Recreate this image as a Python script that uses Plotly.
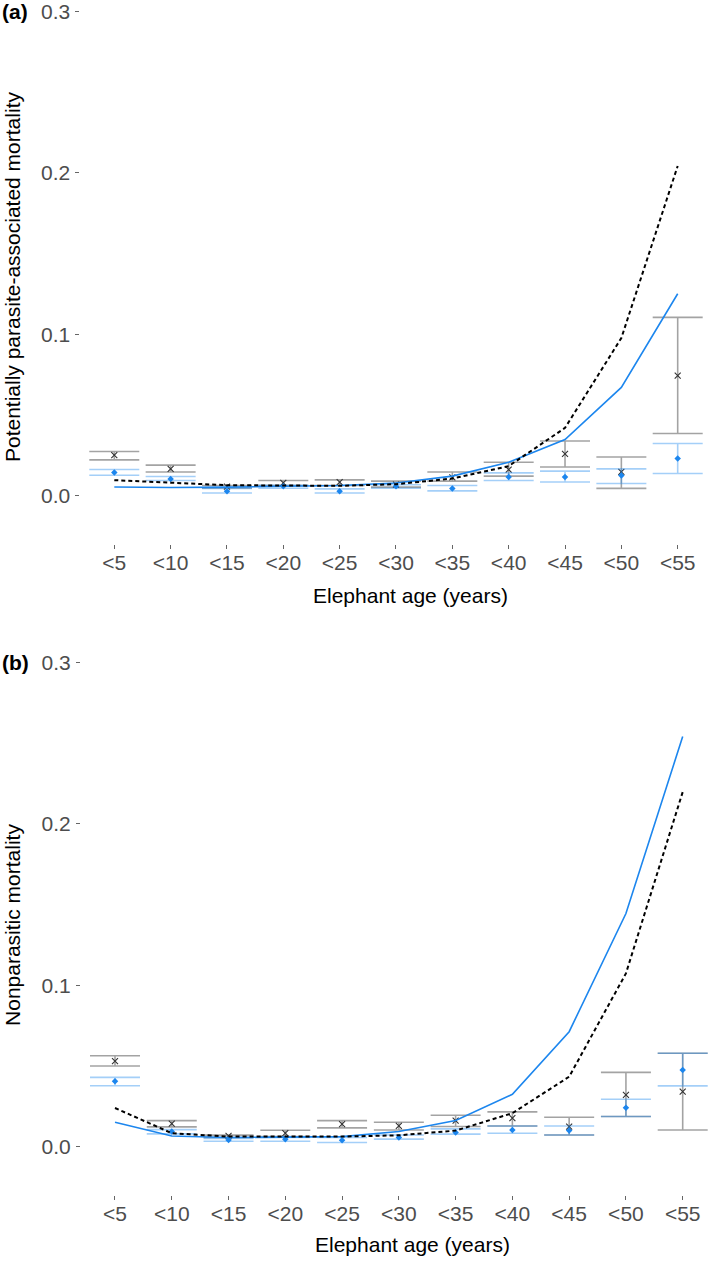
import plotly.graph_objects as go

ages = ["<5", "<10", "<15", "<20", "<25", "<30", "<35", "<40", "<45", "<50", "<55"]
ytick_vals = [0.0, 0.1, 0.2, 0.3]
ytick_text = ["0.0", "0.1", "0.2", "0.3"]

# Panel (a): potentially parasite-associated mortality
a_obs = [0.0251, 0.0166, 0.0056, 0.0079, 0.0084, 0.0069, 0.0114, 0.0162, 0.0259, 0.0147, 0.0744]
a_obs_lo = [0.0222, 0.0147, 0.0048, 0.0063, 0.0063, 0.0053, 0.0090, 0.0121, 0.0178, 0.0045, 0.0385]
a_obs_hi = [0.0274, 0.0189, 0.0063, 0.0094, 0.0098, 0.0090, 0.0147, 0.0207, 0.0339, 0.0240, 0.1105]
a_mod = [0.0144, 0.0104, 0.0028, 0.0059, 0.0028, 0.0059, 0.0045, 0.0116, 0.0116, 0.0125, 0.0230]
a_mod_lo = [0.0127, 0.0094, 0.0017, 0.0046, 0.0017, 0.0046, 0.0030, 0.0094, 0.0085, 0.0075, 0.0137]
a_mod_hi = [0.0162, 0.0119, 0.0045, 0.0065, 0.0042, 0.0068, 0.0063, 0.0141, 0.0152, 0.0166, 0.0323]
a_line = [0.0054, 0.0051, 0.0053, 0.0057, 0.0063, 0.0079, 0.0121, 0.0207, 0.0348, 0.0671, 0.1251]
a_dash = [0.0096, 0.0079, 0.0065, 0.0063, 0.0061, 0.0071, 0.0106, 0.0183, 0.0420, 0.0977, 0.2043]

# Panel (b): nonparasitic mortality
b_obs = [0.0530, 0.0142, 0.0066, 0.0083, 0.0139, 0.0128, 0.0161, 0.0176, 0.0124, 0.0320, 0.0340]
b_obs_lo = [0.0499, 0.0122, 0.0056, 0.0062, 0.0116, 0.0103, 0.0124, 0.0128, 0.0072, 0.0186, 0.0103]
b_obs_hi = [0.0563, 0.0161, 0.0071, 0.0101, 0.0161, 0.0151, 0.0194, 0.0215, 0.0182, 0.0460, 0.0578]
b_mod = [0.0405, 0.0093, 0.0041, 0.0046, 0.0040, 0.0056, 0.0087, 0.0103, 0.0099, 0.0240, 0.0475]
b_mod_lo = [0.0377, 0.0079, 0.0033, 0.0033, 0.0025, 0.0046, 0.0077, 0.0083, 0.0072, 0.0186, 0.0376]
b_mod_hi = [0.0429, 0.0105, 0.0050, 0.0056, 0.0056, 0.0072, 0.0110, 0.0128, 0.0128, 0.0293, 0.0578]
b_line = [0.0151, 0.0066, 0.0056, 0.0058, 0.0062, 0.0093, 0.0161, 0.0324, 0.0712, 0.1444, 0.2541]
b_dash = [0.0239, 0.0083, 0.0062, 0.0062, 0.0062, 0.0070, 0.0099, 0.0207, 0.0433, 0.1073, 0.2197]

BLUE = "#1C86EE"
BLUE_BAR = "rgba(28,134,238,0.40)"
GREY_BAR = "rgba(0,0,0,0.36)"
FONT = "Liberation Sans"

xidx = list(range(len(ages)))

W, H = 709, 1263
MB = 68
PH = H - MB  # plot area height in px


def py(p):
    return (PH - p) / PH


def px(p):
    return p / W


fig = go.Figure()


def add_panel(obs, lo, hi, mod, mlo, mhi, line, dash, xa, ya):
    fig.add_trace(go.Scatter(
        x=xidx, y=obs, mode="markers", xaxis=xa, yaxis=ya,
        marker=dict(symbol="x-thin", size=6, line=dict(width=1.1, color="#333333"), color="#333333"),
        error_y=dict(type="data", symmetric=False,
                     array=[h - v for h, v in zip(hi, obs)],
                     arrayminus=[v - l for v, l in zip(obs, lo)],
                     color=GREY_BAR, thickness=1.6, width=25),
        showlegend=False, hoverinfo="skip"))
    fig.add_trace(go.Scatter(
        x=xidx, y=mod, mode="markers", xaxis=xa, yaxis=ya,
        marker=dict(symbol="diamond", size=5, color=BLUE),
        error_y=dict(type="data", symmetric=False,
                     array=[h - v for h, v in zip(mhi, mod)],
                     arrayminus=[v - l for v, l in zip(mod, mlo)],
                     color=BLUE_BAR, thickness=1.6, width=25),
        showlegend=False, hoverinfo="skip"))
    fig.add_trace(go.Scatter(
        x=xidx, y=line, mode="lines", xaxis=xa, yaxis=ya,
        line=dict(color=BLUE, width=1.6), showlegend=False, hoverinfo="skip"))
    fig.add_trace(go.Scatter(
        x=xidx, y=dash, mode="lines", xaxis=xa, yaxis=ya,
        line=dict(color="black", width=2, dash="4px,3px"), showlegend=False, hoverinfo="skip"))


add_panel(a_obs, a_obs_lo, a_obs_hi, a_mod, a_mod_lo, a_mod_hi, a_line, a_dash, "x", "y")
add_panel(b_obs, b_obs_lo, b_obs_hi, b_mod, b_mod_lo, b_mod_hi, b_line, b_dash, "x2", "y2")

tickfont = dict(family=FONT, size=21, color="#4D4D4D")
common_x = dict(tickmode="array", tickvals=xidx, ticktext=ages, showgrid=False, zeroline=False,
                showline=False, ticks="outside", ticklen=4, tickwidth=1, tickcolor="#666666",
                tickfont=tickfont, ticklabelstandoff=-4, ticklabeloverflow="allow")
common_y = dict(tickmode="array", tickvals=ytick_vals, ticktext=ytick_text, showgrid=False,
                zeroline=False, showline=False, ticks="outside", ticklen=4, tickwidth=1,
                tickcolor="#666666", tickfont=tickfont, range=[-0.0300, 0.3059],
                ticklabelstandoff=1, ticklabeloverflow="allow")

# panel a: x(i) = 114.3 + 56.34 i ; panel b: x(i) = 115 + 56.77 i
a_left = 114.3 - 0.6 * 56.34
b_left = 115.0 - 0.6 * 56.77
fig.update_layout(
    width=W, height=H,
    margin=dict(l=0, r=0, t=0, b=MB),
    paper_bgcolor="white", plot_bgcolor="white",
    xaxis=dict(domain=[px(a_left), 1.0], range=[-0.6, (W - 114.3) / 56.34], anchor="y", **common_x),
    yaxis=dict(domain=[py(543), 1.0], anchor="x", **common_y),
    xaxis2=dict(domain=[px(b_left), 1.0], range=[-0.6, (W - 115.0) / 56.77], anchor="y2", **common_x),
    yaxis2=dict(domain=[0.0, py(652)], anchor="x2", **common_y),
)

ann = [
    dict(text="<b>(a)</b>", x=px(0), y=py(10), xanchor="left", yanchor="middle", size=21, angle=0, color="black"),
    dict(text="<b>(b)</b>", x=px(0), y=py(662), xanchor="left", yanchor="middle", size=21, angle=0, color="black"),
    dict(text="Potentially parasite-associated mortality", x=px(12.5), y=py(275), xanchor="center",
         yanchor="middle", size=21, angle=-90, color="black"),
    dict(text="Nonparasitic mortality", x=px(12.5), y=py(925), xanchor="center",
         yanchor="middle", size=21, angle=-90, color="black"),
    dict(text="Elephant age (years)", x=px(410), y=py(594), xanchor="center",
         yanchor="middle", size=21, angle=0, color="black"),
    dict(text="Elephant age (years)", x=px(412), y=py(1245), xanchor="center",
         yanchor="middle", size=21, angle=0, color="black"),
]
for a in ann:
    fig.add_annotation(text=a["text"], x=a["x"], y=a["y"], xref="paper", yref="paper",
                       xanchor=a["xanchor"], yanchor=a["yanchor"], textangle=a["angle"],
                       showarrow=False, font=dict(family=FONT, size=a["size"], color=a["color"]))

fig.write_html("out.html", config={"displayModeBar": False},
               post_script="document.body.style.margin='0px';document.body.style.padding='0px';")
